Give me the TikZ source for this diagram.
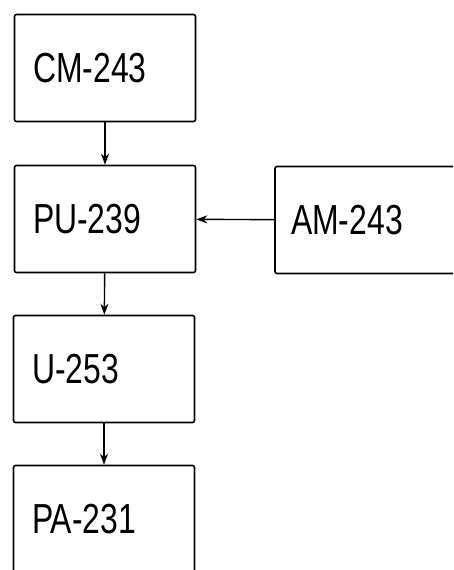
\documentclass[tikz,border=0pt]{standalone}
\usepackage{fontspec}
\usetikzlibrary{arrows.meta}
\newfontfamily\isofont[FakeStretch=0.76]{Liberation Sans}

\begin{document}
\begin{tikzpicture}[x=1pt, y=-1pt,
		every node/.style={font=\isofont\fontsize{42}{42}\selectfont},
		nuclide/.style={draw, line width=1.6pt, rounded corners=2pt, minimum width=181pt, minimum height=107pt, text width=144pt, align=left, inner sep=0pt},
		decay/.style={-{Stealth[length=11pt, width=8pt]}, line width=1.4pt}]
		\useasboundingbox (0,0) rectangle (453,570);
		\clip (0,0) rectangle (453,570);
		\node[nuclide] (cm) at (105,68) {CM-243};
		\node[nuclide] (pu) at (105,219) {PU-239};
		\node[nuclide, minimum width=190pt, text width=158pt] (am) at (370,220) {AM-243};
		\node[nuclide] (u) at (104,369) {U-253};
		\node[nuclide] (pa) at (104,519) {PA-231};
		\draw[decay] (cm) -- (pu);
		\draw[decay] (am) -- (pu);
		\draw[decay] (pu) -- (u);
		\draw[decay] (u) -- (pa);
	\end{tikzpicture}
\end{document}
